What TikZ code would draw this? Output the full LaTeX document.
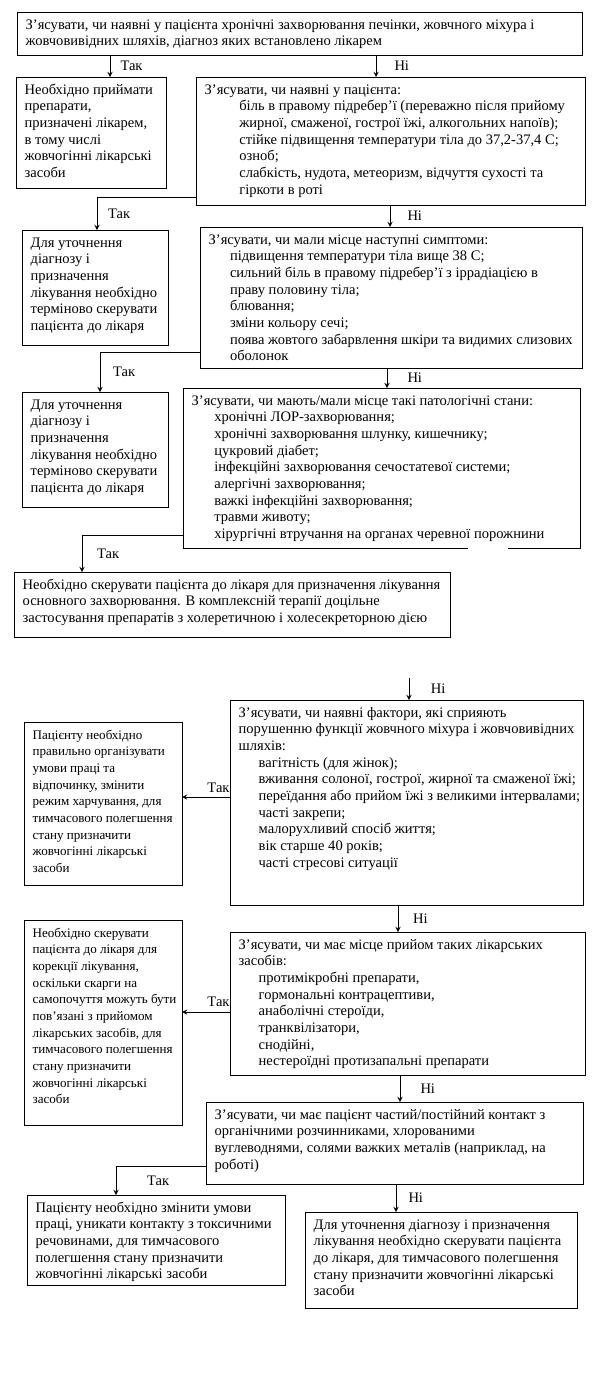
\documentclass[tikz,border=0pt]{standalone}
\usepackage{fontspec}
\setmainfont{Liberation Serif}
\usetikzlibrary{positioning}

% box text: width px, height px, lines
\newcommand{\cell}[3]{\parbox[t][\dimexpr #2pt*3/4-8pt\relax][t]{\dimexpr #1pt*3/4-13pt\relax}{\begin{tabular}[t]{@{}l@{}}#3\end{tabular}}}
\newcommand{\I}[1]{\hspace*{#1pt}}

\tikzset{
  blk/.style={draw, line width=0.75pt, anchor=north west, inner xsep=6.5pt, inner ysep=4pt, outer sep=0pt},
  narrow/.style={font=\fontsize{9.8}{12.5}\selectfont},
  lbl/.style={inner sep=0pt},
}

\begin{document}
\begin{tikzpicture}[x=0.75pt, y=-0.75pt, >=stealth, line width=0.75pt, font=\fontsize{10.9}{12.5}\selectfont]
	\useasboundingbox (0,0) rectangle (600,1400);
	
	%questions
	\node [blk] (ask-1) at (17,12) {\cell{565}{43}{З’ясувати, чи наявні у пацієнта хронічні захворювання печінки, жовчного міхура і\\жовчовивідних шляхів, діагноз яких встановлено лікарем}};
	\node [blk] (ask-2) at (196,77) {\cell{389}{128}{З’ясувати, чи наявні у пацієнта:\\
	  \I{26}біль в правому підребер’ї (переважно після прийому\\
	  \I{26}жирної, смаженої, гострої їжі, алкогольних напоїв);\\
	  \I{26}стійке підвищення температури тіла до 37,2-37,4 С;\\
	  \I{26}озноб;\\
	  \I{26}слабкість, нудота, метеоризм, відчуття сухості та\\
	  \I{26}гіркоти в роті}};
	\node [blk] (ask-3) at (200,227) {\cell{382}{141}{З’ясувати, чи мали місце наступні симптоми:\\
	  \I{16}підвищення температури тіла вище 38 С;\\
	  \I{16}сильний біль в правому підребер’ї з іррадіацією в\\
	  \I{16}праву половину тіла;\\
	  \I{16}блювання;\\
	  \I{16}зміни кольору сечі;\\
	  \I{16}поява жовтого забарвлення шкіри та видимих слизових\\
	  \I{16}оболонок}};
	\node [blk] (ask-4) at (183,388) {\cell{397}{160}{З’ясувати, чи мають/мали місце такі патологічні стани:\\
	  \I{17}хронічні ЛОР-захворювання;\\
	  \I{17}хронічні захворювання шлунку, кишечнику;\\
	  \I{17}цукровий діабет;\\
	  \I{17}інфекційні захворювання сечостатевої системи;\\
	  \I{17}алергічні захворювання;\\
	  \I{17}важкі інфекційні захворювання;\\
	  \I{17}травми животу;\\
	  \I{17}хірургічні втручання на органах черевної порожнини}};
	\node [blk] (ask-5) at (230,700) {\cell{353}{205}{З’ясувати, чи наявні фактори, які сприяють\\
	  порушенню функції жовчного міхура і жовчовивідних\\
	  шляхів:\\
	  \I{15}вагітність (для жінок);\\
	  \I{15}вживання солоної, гострої, жирної та смаженої їжі;\\
	  \I{15}переїдання або прийом їжі з великими інтервалами;\\
	  \I{15}часті закрепи;\\
	  \I{15}малорухливий спосіб життя;\\
	  \I{15}вік старше 40 років;\\
	  \I{15}часті стресові ситуації}};
	\node [blk] (ask-6) at (230,932) {\cell{355}{143}{З’ясувати, чи має місце прийом таких лікарських\\
	  засобів:\\
	  \I{15}протимікробні препарати,\\
	  \I{15}гормональні контрацептиви,\\
	  \I{15}анаболічні стероїди,\\
	  \I{15}транквілізатори,\\
	  \I{15}снодійні,\\
	  \I{15}нестероїдні протизапальні препарати}};
	\node [blk] (ask-7) at (206,1102) {\cell{377}{82}{З’ясувати, чи має пацієнт частий/постійний контакт з\\
	  органічними розчинниками, хлорованими\\
	  вуглеводнями, солями важких металів (наприклад, на\\
	  роботі)}};
	
	%answers
	\node [blk] (ans-1) at (16,77) {\cell{150}{111}{Необхідно приймати\\препарати,\\призначені лікарем,\\в тому числі\\жовчогінні лікарські\\засоби}};
	\foreach \y [count=\i from 2] in {230,392}
	  \node [blk] (ans-\i) at (22,\y) {\cell{146}{115}{Для уточнення\\діагнозу і\\призначення\\лікування необхідно\\терміново скерувати\\пацієнта до лікаря}};
	\node [blk] (ans-4) at (14,572) {\cell{436}{65}{Необхідно скерувати пацієнта до лікаря для призначення лікування\\основного захворювання. В комплексній терапії доцільне\\застосування препаратів з холеретичною і холесекреторною дією}};
	\node [blk, narrow] (ans-5) at (24,722) {\cell{158}{163}{Пацієнту необхідно\\правильно організувати\\умови праці та\\відпочинку, змінити\\режим харчування, для\\тимчасового полегшення\\стану призначити\\жовчогінні лікарські\\засоби}};
	\node [blk, narrow] (ans-6) at (24,920) {\cell{158}{205}{Необхідно скерувати\\пацієнта до лікаря для\\корекції лікування,\\оскільки скарги на\\самопочуття можуть бути\\пов’язані з прийомом\\лікарських засобів, для\\тимчасового полегшення\\стану призначити\\жовчогінні лікарські\\засоби}};
	\node [blk] (ans-7) at (27,1195) {\cell{258}{90}{Пацієнту необхідно змінити умови\\праці, уникати контакту з токсичними\\речовинами, для тимчасового\\полегшення стану призначити\\жовчогінні лікарські засоби}};
	\node [blk] (ans-8) at (305,1212) {\cell{272}{96}{Для уточнення діагнозу і призначення\\лікування необхідно скерувати пацієнта\\до лікаря, для тимчасового полегшення\\стану призначити жовчогінні лікарські\\засоби}};
	
	% gap in the lower border
	\fill [white] (468,544) rectangle (508,553);
	
	%Ні
	\foreach \a/\b/\x/\o [count=\i] in {ask-1/ask-2/376/13.5, ask-2/ask-3/390/12.75, ask-3/ask-4/387/15, ask-5/ask-6/398/11, ask-6/ask-7/400/15, ask-7/ans-8/396/9}
	  \draw [->] (\a.south -| \x,0) -- (\b.north -| \x,0)
	    node [lbl, midway, right=\o pt] (ni-\i) {Ні};
	\coordinate (from-5) at (409,678);
	\draw [->] (from-5) -- (ask-5.north -| from-5)
	  node [lbl, midway, right=16pt] (ni-7) {Ні};
	
	%Так
	\draw [->] (ask-1.south -| 110,0) -- (ans-1.north -| 110,0)
	  node [lbl, midway, right=7.5pt] (tak-1) {Так};
	\draw [->] (ask-2.west |- 0,197) -| (ans-2.north -| 97,0)
	  node [lbl, pos=0.75, right=8pt] (tak-2) {Так};
	\draw [->] (ask-3.west |- 0,352) -| (ans-3.north -| 100,0)
	  node [lbl, pos=0.75, right=9.5pt] (tak-3) {Так};
	\draw [->] (ask-4.west |- 0,535) -| (ans-4.north -| 82,0)
	  node [lbl, pos=0.75, right=11pt] (tak-4) {Так};
	\draw [->] (ask-5.west |- 0,797) -- (ans-5.east |- 0,797)
	  node [lbl, pos=0, above left=3pt and 0pt] (tak-5) {Так};
	\draw [->] (ask-6.west |- 0,1012) -- (ans-6.east |- 0,1012)
	  node [lbl, pos=0, above left=4pt and 0pt] (tak-6) {Так};
	\draw [->] (ask-7.west |- 0,1166) -| (ans-7.north -| 116,0)
	  node [lbl, pos=0.75, right=23pt] (tak-7) {Так};
\end{tikzpicture}
\end{document}
